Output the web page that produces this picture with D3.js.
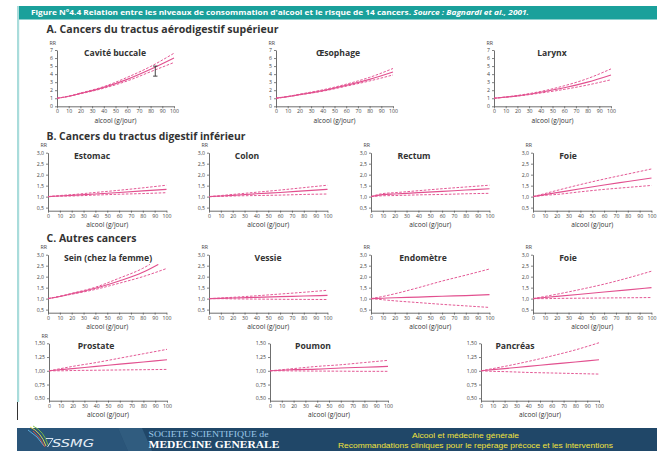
<!DOCTYPE html>
<html><head><meta charset="utf-8">
<script src="https://cdn.jsdelivr.net/npm/d3@7"></script>
<style>
html,body{margin:0;padding:0;background:#fff;}
svg{display:block;font-family:"Open Sans",sans-serif;}
</style></head><body>
<svg id="chart" width="657" height="451"></svg>
<script>
// Alcohol intake grid (g/jour) on which the fitted curves are given
const doses = [0, 10, 20, 40, 60, 80, 100];
const doseTicks = [0, 10, 20, 30, 40, 50, 60, 70, 80, 90, 100];

// Relative risk: estimate (Mid), upper (Hi) and lower (Lo) 95% limits
const caviteMid = [1, 1.25, 1.6, 2.35, 3.35, 4.6, 6.0];
const caviteHi  = [1, 1.27, 1.65, 2.45, 3.6, 4.95, 6.6];
const caviteLo  = [1, 1.23, 1.55, 2.25, 3.15, 4.3, 5.45];
const caviteBar = [84, 3.75, 5.0];   // dose, low, high

const oesoMid = [1, 1.2, 1.45, 1.95, 2.6, 3.35, 4.27];
const oesoHi  = [1, 1.22, 1.5, 2.05, 2.75, 3.6, 4.7];
const oesoLo  = [1, 1.19, 1.42, 1.88, 2.5, 3.15, 3.9];

const larynxMid = [1, 1.14, 1.3, 1.75, 2.3, 3.0, 3.9];
const larynxHi  = [1, 1.16, 1.35, 1.85, 2.55, 3.45, 4.65];
const larynxLo  = [1, 1.13, 1.27, 1.65, 2.1, 2.65, 3.3];

const estomacMid = [1, 1.03, 1.06, 1.12, 1.19, 1.26, 1.33];
const estomacHi  = [1, 1.05, 1.09, 1.19, 1.29, 1.4, 1.52];
const estomacLo  = [1, 1.02, 1.03, 1.07, 1.11, 1.14, 1.18];

const colonMid = [1, 1.03, 1.06, 1.13, 1.19, 1.26, 1.33];
const colonHi  = [1, 1.05, 1.1, 1.2, 1.3, 1.41, 1.52];
const colonLo  = [1, 1.01, 1.03, 1.05, 1.07, 1.1, 1.12];

const rectumMid = [1, 1.09, 1.12, 1.18, 1.24, 1.3, 1.36];
const rectumHi  = [1, 1.14, 1.18, 1.27, 1.36, 1.44, 1.52];
const rectumLo  = [1, 1.04, 1.05, 1.08, 1.1, 1.13, 1.15];

const foieBMid = [1, 1.09, 1.18, 1.36, 1.53, 1.69, 1.85];
const foieBHi  = [1, 1.14, 1.28, 1.55, 1.8, 2.03, 2.26];
const foieBLo  = [1, 1.06, 1.1, 1.22, 1.33, 1.42, 1.51];

const seinMidDoses = [0, 10, 20, 40, 60, 80, 93];
const seinHiDoses  = [0, 10, 20, 40, 60, 80, 86];
const seinMid = [1, 1.1, 1.22, 1.47, 1.8, 2.2, 2.56];
const seinHi  = [1, 1.11, 1.24, 1.52, 1.93, 2.38, 2.56];
const seinLo  = [1, 1.1, 1.2, 1.42, 1.7, 2.0, 2.37];

const vessieMid = [1, 1.015, 1.03, 1.06, 1.09, 1.12, 1.15];
const vessieHi  = [1, 1.03, 1.06, 1.13, 1.21, 1.29, 1.38];
const vessieLo  = [1, 1.0, 0.99, 0.98, 0.97, 0.965, 0.96];

const endoMid = [1, 1.02, 1.04, 1.07, 1.11, 1.14, 1.18];
const endoHi  = [1, 1.1, 1.22, 1.5, 1.8, 2.07, 2.35];
const endoLo  = [1, 0.95, 0.9, 0.82, 0.74, 0.67, 0.6];

const foieCMid = [1, 1.05, 1.1, 1.2, 1.3, 1.4, 1.5];
const foieCHi  = [1, 1.1, 1.2, 1.42, 1.66, 1.94, 2.25];
const foieCLo  = [1, 1.0, 1.01, 1.02, 1.03, 1.04, 1.05];

const prostateMid = [1, 1.02, 1.04, 1.08, 1.12, 1.16, 1.2];
const prostateHi  = [1, 1.04, 1.08, 1.15, 1.23, 1.31, 1.39];
const prostateLo  = [1, 1.0, 1.005, 1.01, 1.015, 1.02, 1.025];

const poumonMid = [1, 1.01, 1.02, 1.03, 1.05, 1.065, 1.08];
const poumonHi  = [1, 1.02, 1.04, 1.08, 1.11, 1.15, 1.19];
const poumonLo  = [1, 1.0, 0.998, 0.995, 0.993, 0.99, 0.99];

const pancreasMid = [1, 1.02, 1.04, 1.08, 1.12, 1.16, 1.2];
const pancreasHi  = [1, 1.04, 1.08, 1.17, 1.27, 1.38, 1.51];
const pancreasLo  = [1, 0.99, 0.985, 0.97, 0.96, 0.95, 0.94];

// Axis ticks
const ticksA = [0, 1, 2, 3, 4, 5, 6, 7];
const ticksBC = [0.5, 1, 1.5, 2, 2.5, 3];
const ticksD = [0.5, 0.75, 1, 1.25, 1.5];

// Texts
const figureTitle = "Figure N°4.4 Relation entre les niveaux de consommation d'alcool et le risque de 14 cancers.";
const figureSource = " Source : Bagnardi et al., 2001.";
const headings = ["A. Cancers du tractus aérodigestif supérieur", "B. Cancers du tractus digestif inférieur", "C. Autres cancers"];
const xTitle = "alcool (g/jour)";

const PINK = "#e2508f";
const AXIS = "#4a4a4a";
const comma = f => v => d3.format(f)(v).replace(".", ",");

const svg = d3.select("#chart");

// ---- page frame ----
svg.append("rect").attr("x", 17).attr("y", 6).attr("width", 2.2).attr("height", 396).attr("fill", "#a9dcdb");
svg.append("rect").attr("x", 17).attr("y", 402).attr("width", 1).attr("height", 18).attr("fill", "#333");
svg.append("rect").attr("x", 19).attr("y", 6).attr("width", 638).attr("height", 13.5).attr("fill", "#1aa09b");
const tt = svg.append("text").attr("x", 31).attr("y", 15.2)
  .attr("fill", "#fff").attr("font-size", 6.3).attr("font-weight", 700)
  .attr("textLength", 498).attr("lengthAdjust", "spacingAndGlyphs");
tt.append("tspan").text(figureTitle);
tt.append("tspan").attr("font-style", "italic").text(figureSource);

// section headings
const headingY = [32.6, 139.6, 241.6];
const headingW = [232, 199, 90];
headings.forEach((h, i) => {
  svg.append("text").attr("x", 46.5).attr("y", headingY[i])
    .attr("font-size", 10).attr("font-weight", 700).attr("fill", "#333")
    .attr("textLength", headingW[i]).attr("lengthAdjust", "spacingAndGlyphs").text(h);
});

// ---- panel layout ----
const secA = { top: 50, bottom: 106.3, domain: [0, 7], ticks: ticksA, fmt: d3.format("d"), width: 117 };
const secB = { top: 152.7, bottom: 210.7, domain: [0.36, 3], ticks: ticksBC, fmt: comma(".1f"), width: 118.5 };
const secC = { top: 254.7, bottom: 312.7, domain: [0.36, 3], ticks: ticksBC, fmt: comma(".1f"), width: 118.5 };
const secD = { top: 343.3, bottom: 400.7, domain: [0.456, 1.5], ticks: ticksD, fmt: comma(".2f"), width: 118 };

const panels = [
  { sec: secA, x0: 57,  title: "Cavité buccale", tdx: 58, rr: true, mid: caviteMid, hi: caviteHi, lo: caviteLo, bar: caviteBar },
  { sec: secA, x0: 276, title: "Œsophage", tdx: 62, rr: true, mid: oesoMid, hi: oesoHi, lo: oesoLo },
  { sec: secA, x0: 494, title: "Larynx", tdx: 58, rr: true, mid: larynxMid, hi: larynxHi, lo: larynxLo },
  { sec: secB, x0: 48,  title: "Estomac", tdx: 44, rr: true, mid: estomacMid, hi: estomacHi, lo: estomacLo },
  { sec: secB, x0: 209, title: "Colon", tdx: 38, rr: true, mid: colonMid, hi: colonHi, lo: colonLo },
  { sec: secB, x0: 371, title: "Rectum", tdx: 43, rr: true, mid: rectumMid, hi: rectumHi, lo: rectumLo },
  { sec: secB, x0: 533, title: "Foie", tdx: 35, rr: true, mid: foieBMid, hi: foieBHi, lo: foieBLo },
  { sec: secC, x0: 48,  title: "Sein (chez la femme)", tdx: 60, rr: true, mid: seinMid, hi: seinHi, lo: seinLo, midDoses: seinMidDoses, hiDoses: seinHiDoses },
  { sec: secC, x0: 209, title: "Vessie", tdx: 59, rr: true, mid: vessieMid, hi: vessieHi, lo: vessieLo },
  { sec: secC, x0: 371, title: "Endomètre", tdx: 52, rr: true, mid: endoMid, hi: endoHi, lo: endoLo },
  { sec: secC, x0: 533, title: "Foie", tdx: 35, rr: true, mid: foieCMid, hi: foieCHi, lo: foieCLo },
  { sec: secD, x0: 49,  title: "Prostate", tdx: 47, rr: true, mid: prostateMid, hi: prostateHi, lo: prostateLo },
  { sec: secD, x0: 270, title: "Poumon", tdx: 43, rr: false, mid: poumonMid, hi: poumonHi, lo: poumonLo },
  { sec: secD, x0: 481, title: "Pancréas", tdx: 34, rr: false, mid: pancreasMid, hi: pancreasHi, lo: pancreasLo }
];

panels.forEach(p => {
  const s = p.sec;
  const x = d3.scaleLinear().domain([0, 100]).range([p.x0, p.x0 + s.width]);
  const y = d3.scaleLinear().domain(s.domain).range([s.bottom, s.top]);
  const g = svg.append("g");

  // axes
  const ya = g.append("g").attr("transform", `translate(${p.x0},0)`)
    .call(d3.axisLeft(y).tickValues(s.ticks).tickFormat(s.fmt).tickSize(2).tickPadding(2).tickSizeOuter(0));
  const xa = g.append("g").attr("transform", `translate(0,${s.bottom})`)
    .call(d3.axisBottom(x).tickValues(doseTicks).tickFormat(d3.format("d")).tickSize(2).tickPadding(1.5).tickSizeOuter(0));
  [ya, xa].forEach(a => {
    a.select(".domain").attr("stroke", AXIS).attr("stroke-width", 0.8);
    a.selectAll(".tick line").attr("stroke", AXIS).attr("stroke-width", 0.7);
    a.selectAll(".tick text").attr("fill", "#444").attr("font-size", 5.2).attr("font-family", "Open Sans, sans-serif");
  });

  if (p.rr) {
    g.append("text").attr("x", p.x0 - 1).attr("y", s.top - 5.3).attr("text-anchor", "end")
      .attr("font-size", 5.3).attr("fill", "#444").text("RR");
  }
  g.append("text").attr("x", p.x0 + p.tdx).attr("y", s.top + 3).attr("dy", "0.35em")
    .attr("text-anchor", "middle").attr("font-size", 8.6).attr("font-weight", 700).attr("fill", "#333").text(p.title);
  g.append("text").attr("x", p.x0 + s.width / 2).attr("y", s.bottom + 14).attr("dy", "0.35em")
    .attr("text-anchor", "middle").attr("font-size", 6.6).attr("fill", "#333").text(xTitle);

  const line = d3.line().x(d => x(d[0])).y(d => y(d[1])).curve(d3.curveMonotoneX);
  const pts = (ds, vs) => vs.map((v, i) => [ds[i], v]);
  const series = [
    { v: pts(p.hiDoses || doses, p.hi), dash: true },
    { v: pts(doses, p.lo), dash: true },
    { v: pts(p.midDoses || doses, p.mid), dash: false }
  ];
  series.forEach(sr => {
    g.append("path").attr("d", line(sr.v)).attr("fill", "none").attr("stroke", PINK)
      .attr("stroke-width", sr.dash ? 0.95 : 1.15)
      .attr("stroke-dasharray", sr.dash ? "2.6,1.5" : null);
  });

  if (p.bar) {
    const bx = x(p.bar[0]), b0 = y(p.bar[1]), b1 = y(p.bar[2]);
    g.append("line").attr("x1", bx).attr("x2", bx).attr("y1", b0).attr("y2", b1).attr("stroke", "#333").attr("stroke-width", 0.9);
    [b0, b1].forEach(by => g.append("line").attr("x1", bx - 2.2).attr("x2", bx + 2.2).attr("y1", by).attr("y2", by)
      .attr("stroke", "#333").attr("stroke-width", 0.9));
  }
});

// ---- footer ----
const ft = svg.append("g");
ft.append("rect").attr("x", 17).attr("y", 428).attr("width", 640).attr("height", 23).attr("fill", "#204768");
ft.append("path").attr("d", "M17,428 L118,428 L128,451 L17,451 Z").attr("fill", "#2a5579");
ft.append("path").attr("d", "M118,428 L142,428 L152,451 L128,451 Z").attr("fill", "#376589").attr("opacity", 0.7);
// logo swoosh
const sw = [["#f1e04a", "M30,427 Q41,432 46,446"], ["#7cc143", "M33,426 Q44,431 48,445"],
            ["#5fb4e6", "M28,430 Q38,436 44,446"], ["#e0503c", "M33,431 Q40,437 45,447"]];
sw.forEach(d => ft.append("path").attr("d", d[1]).attr("fill", "none").attr("stroke", d[0]).attr("stroke-width", 0.9));
ft.append("path").attr("d", "M46,438.5 L53,438.5 L47.5,447").attr("fill", "none").attr("stroke", "#e6eef6").attr("stroke-width", 0.9);
ft.append("text").attr("x", 52).attr("y", 446.5).attr("font-size", 10).attr("font-style", "italic")
  .attr("fill", "#e6eef6").attr("font-family", "DejaVu Sans, sans-serif")
  .attr("textLength", 42).attr("lengthAdjust", "spacingAndGlyphs").text("SSMG");
ft.append("text").attr("x", 148.5).attr("y", 437).attr("font-size", 8).attr("fill", "#9cc9ea")
  .attr("font-family", "Liberation Serif, serif").attr("textLength", 120).attr("lengthAdjust", "spacingAndGlyphs").text("SOCIETE SCIENTIFIQUE de");
ft.append("text").attr("x", 148.5).attr("y", 447.5).attr("font-size", 9.5).attr("font-weight", 700).attr("fill", "#ffffff")
  .attr("font-family", "Liberation Serif, serif").attr("textLength", 131).attr("lengthAdjust", "spacingAndGlyphs").text("MEDECINE GENERALE");
ft.append("text").attr("x", 412).attr("y", 438.3).attr("font-size", 7.6).attr("fill", "#f2e43c")
  .attr("font-family", "Liberation Sans, sans-serif").attr("textLength", 107).attr("lengthAdjust", "spacingAndGlyphs")
  .text("Alcool et médecine générale");
ft.append("text").attr("x", 338).attr("y", 448.2).attr("font-size", 7.6).attr("fill", "#f2e43c")
  .attr("font-family", "Liberation Sans, sans-serif").attr("textLength", 275).attr("lengthAdjust", "spacingAndGlyphs")
  .text("Recommandations cliniques pour le repérage précoce et les interventions");
</script>
</body></html>
